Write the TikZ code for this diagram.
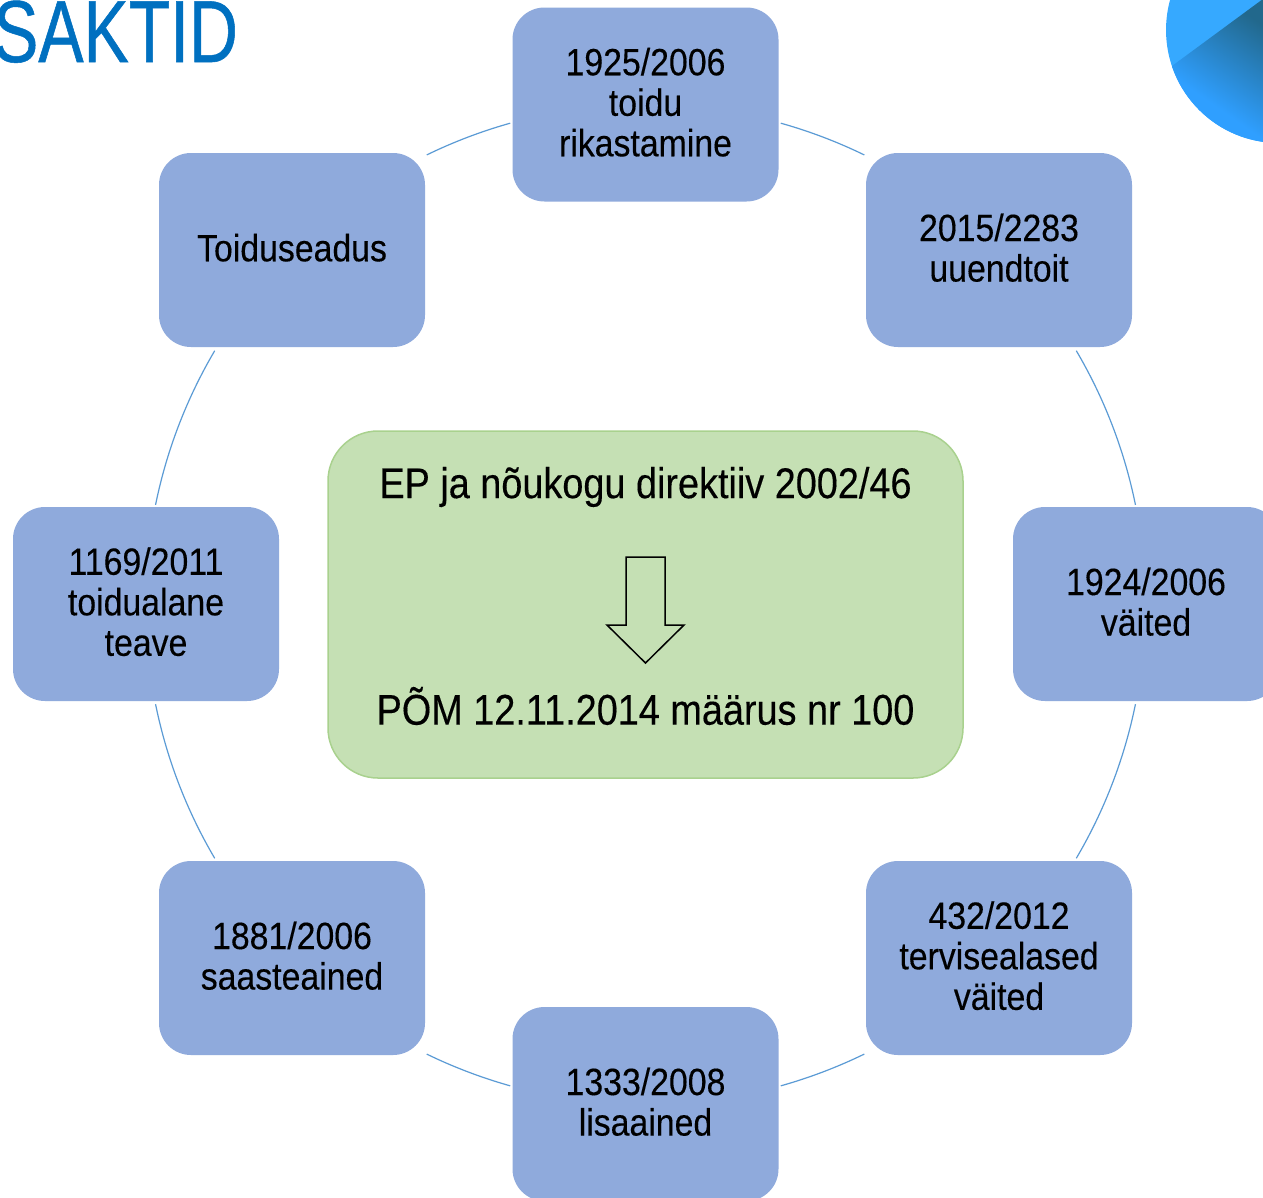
\documentclass[tikz,border=0pt]{standalone}
\usepackage{fontspec}
\setmainfont{Liberation Sans}[FakeStretch=0.89,FakeBold=0.25]
\newfontfamily\hubfont{Liberation Sans}[FakeStretch=0.88,FakeBold=0.25]
\newfontfamily\titlefont{Liberation Sans}[FakeStretch=0.77,FakeBold=0.6]
\usetikzlibrary{calc}
\definecolor{boxblue}{HTML}{8FAADC}
\definecolor{boxgreen}{HTML}{C5E0B4}
\definecolor{boxgreenedge}{HTML}{A9D18E}
\definecolor{ringblue}{HTML}{5B9BD5}
\definecolor{titleblue}{HTML}{0070C0}
\definecolor{discblue}{HTML}{36A9FF}
\definecolor{discdark}{HTML}{22688C}
\definecolor{discmid}{HTML}{2F9FFF}
\pgfdeclareverticalshading{discfade}{100bp}{color(0bp)=(discmid);color(38bp)=(discmid);color(76bp)=(discdark);color(100bp)=(discdark)}
\tikzset{
  lawbox/.style={fill=boxblue,rounded corners=32pt,minimum width=266pt,minimum height=194pt,inner sep=0pt},
  lawtext/.style={align=center,font=\fontsize{38}{40.5}\selectfont,text=black,inner sep=0pt,yshift=2.3pt},
  hubbox/.style={draw=boxgreenedge,line width=1.5pt,fill=boxgreen,rounded corners=50pt,
    minimum width=635pt,minimum height=347pt,inner sep=0pt},
  hubtext/.style={font=\hubfont\fontsize{43}{46}\selectfont,text=black,inner sep=0pt},
  ringarc/.style={draw=ringblue,line width=1.2pt}
}
\begin{document}
\begin{tikzpicture}[x=1pt,y=-1pt]
\useasboundingbox (0,0) rectangle (1263,1197);
\clip (0,0) rectangle (1263,1197);
\fill[white] (0,0) rectangle (1263,1197);
% corner disc
\fill[discblue] (1279,30) circle[radius=113];
\begin{scope}
  \clip (1279,30) circle[radius=113];
  \shade[shading=discfade,shading angle=-35]
    (1172,66) -- (1263,-1) -- (1264,-1) -- (1264,145) -- (1172,145) -- cycle;
\end{scope}
\node[anchor=base west,inner sep=0pt,text=titleblue,font=\titlefont\fontsize{88}{88}\selectfont] (title) at (-7,62) {SAKTID};
% hub
\node[hubbox] (hub) at (645.5,604.5) {};
\node[hubtext] (hubtop) at (645.5,487) {EP ja nõukogu direktiiv 2002/46};
\node[hubtext] (hubbot) at (645.5,706) {PÕM 12.11.2014 määrus nr 100};
\draw[black,line width=1.5pt,fill=boxgreen] (626,557) -- (665,557) -- (665,625) -- (684,625) -- (645.5,663) -- (607,625) -- (626,625) -- cycle;
% ring
\foreach \n/\a/\b in {a/-74.3/-64.05,b/-30.5/-11.5,c/11.5/30.5,d/64.05/74.3,e/105.7/115.95,f/149.5/168.5,g/191.5/210.5,h/244.05/254.3}{
  \coordinate (ring\n) at ($(hub)+(\a:500)$);
  \draw[ringarc] (ring\n) arc[start angle=\a,end angle=\b,radius=500];
}
% boxes
\node[lawbox] (n1) at (645.5,104.5) {};
\node[lawbox] (n2) at (999,250) {};
\node[lawbox] (n3) at (1146,604) {};
\node[lawbox] (n4) at (999,958) {};
\node[lawbox] (n5) at (645.5,1104) {};
\node[lawbox] (n6) at (292,958) {};
\node[lawbox] (n7) at (146,604) {};
\node[lawbox] (n8) at (292,250) {};
\node[lawtext] (t1) at (n1) {1925/2006\\toidu\\rikastamine};
\node[lawtext] (t2) at (n2) {2015/2283\\uuendtoit};
\node[lawtext] (t3) at (n3) {1924/2006\\väited};
\node[lawtext] (t4) at (n4) {432/2012\\tervisealased\\väited};
\node[lawtext] (t5) at (n5) {1333/2008\\lisaained};
\node[lawtext] (t6) at (n6) {1881/2006\\saasteained};
\node[lawtext] (t7) at (n7) {1169/2011\\toidualane\\teave};
\node[lawtext] (t8) at (n8) {Toiduseadus};
\end{tikzpicture}
\end{document}
